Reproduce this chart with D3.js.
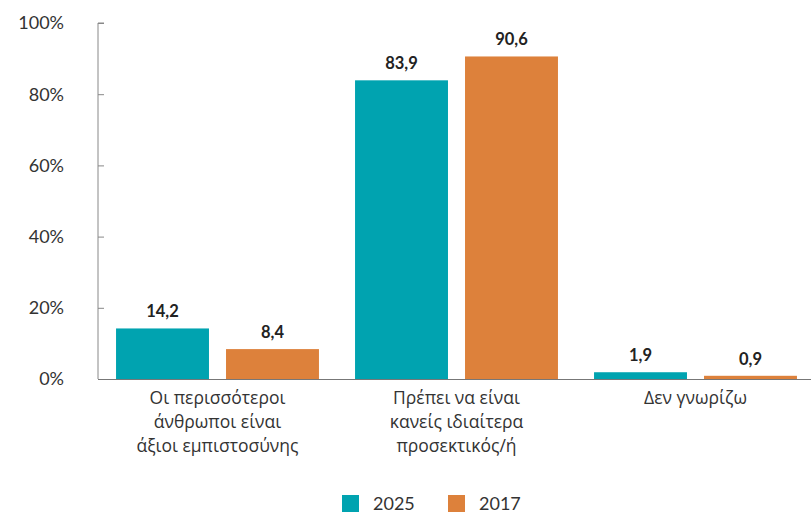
<!DOCTYPE html>
<html><head><meta charset="utf-8">
<script src="https://cdn.jsdelivr.net/npm/d3@7"></script>
<style>body{margin:0;background:#fff}svg{display:block;font-family:Lato,"Open Sans",sans-serif}</style>
</head><body><svg id="c" width="811" height="514"></svg>
<script>
const categories = [
  ["Οι περισσότεροι","άνθρωποι είναι","άξιοι εμπιστοσύνης"],
  ["Πρέπει να είναι","κανείς ιδιαίτερα","προσεκτικός/ή"],
  ["Δεν γνωρίζω"]
];
const seriesNames = ["2025","2017"];
const values2025 = [14.2, 83.9, 1.9];
const values2017 = [8.4, 90.6, 0.9];
const yTicks = [0,20,40,60,80,100];
const colors = ["#00A3B0","#DD813B"];

const svg = d3.select("#c");
const m = {l:98, r:-4, t:23, b:135};
const W = 811, H = 514;
const x0 = d3.scaleBand().domain(d3.range(categories.length)).range([m.l, W-m.r]).paddingInner(0).paddingOuter(0);
const x1 = d3.scaleBand().domain(seriesNames).range([0, x0.bandwidth()]).paddingInner(0.155).paddingOuter(0.164);
const y = d3.scaleLinear().domain([0,100]).range([H-m.b, m.t]);

// y axis
const ya = svg.append("g").attr("transform",`translate(${m.l},0)`)
  .call(d3.axisRight(y).tickValues(yTicks).tickSize(6).tickFormat(""));
ya.select(".domain").attr("stroke","#888").attr("d",`M6,${y(100)}H0V${y(0)}`);
ya.selectAll(".tick line").attr("stroke","#888");
svg.append("g").selectAll("text").data(yTicks).join("text")
  .attr("x",64).attr("y",d=>y(d)).attr("dy","0.35em").attr("text-anchor","end")
  .attr("font-size",18).attr("fill","#333").text(d=>d+"%");

// bars
const data = categories.map((c,i)=>({i, vals:[values2025[i], values2017[i]]}));
const g = svg.append("g");
data.forEach(d=>{
  d.vals.forEach((v,j)=>{
    const xx = x0(d.i)+x1(seriesNames[j]);
    g.append("rect").attr("x",xx).attr("width",x1.bandwidth())
      .attr("y",y(v)).attr("height",y(0)-y(v)).attr("fill",colors[j]);
    g.append("text").attr("x",xx+x1.bandwidth()/2).attr("y",y(v)-11)
      .attr("text-anchor","middle").attr("font-size",16.5).attr("font-weight","bold")
      .attr("fill","#222").text(v.toFixed(1).replace(".",","));
  });
});

// baseline
svg.append("line").attr("x1",m.l).attr("x2",W).attr("y1",y(0)+0.5).attr("y2",y(0)+0.5).attr("stroke","#777").attr("stroke-width",1.2);

// category labels
categories.forEach((lines,i)=>{
  const t = svg.append("text").attr("text-anchor","middle").attr("font-size",17.5)
    .attr("font-family","'Open Sans',sans-serif").attr("fill","#333");
  lines.forEach((ln,k)=>{
    t.append("tspan").attr("x",x0(i)+x0.bandwidth()/2).attr("y",y(0)+25+k*24).text(ln);
  });
});

// legend
const lg = svg.append("g");
const lx = [342, 448];
seriesNames.forEach((s,j)=>{
  lg.append("rect").attr("x",lx[j]).attr("y",495).attr("width",17).attr("height",17).attr("fill",colors[j]);
  lg.append("text").attr("x",lx[j]+31).attr("y",504).attr("dy","0.35em").attr("font-size",18).attr("fill","#333").text(s);
});
</script></body></html>
